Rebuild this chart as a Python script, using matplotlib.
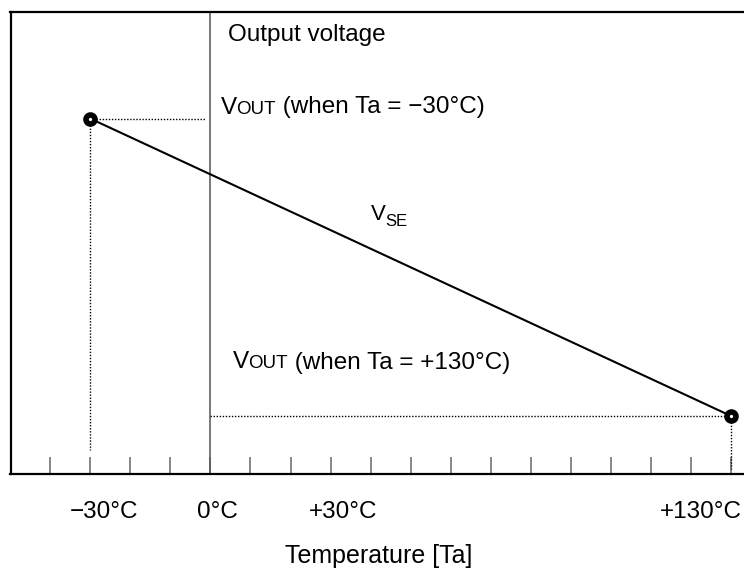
import matplotlib
matplotlib.use('Agg')
import matplotlib.pyplot as plt

plt.rcParams['font.family'] = ['Liberation Sans', 'DejaVu Sans']

# data: temperatures (deg C) and relative output voltage at the two ends
temps = [-30, 130]
vout = [0.768, 0.125]
tick_temps = [-40, -30, -20, -10, 0, 10, 20, 30, 40, 50, 60, 70, 80, 90, 100, 110, 120, 130]
label_temps = [-30, 0, 30, 130]
label_texts = ['\u221230\u00b0C', '0\u00b0C', '+30\u00b0C', '+130\u00b0C']
label_shift = [3.4, 1.75, 3.25, -7.5]  # label offset from tick, in deg C

W, H = 744, 569
fig = plt.figure(figsize=(W / 100, H / 100), dpi=100)
ax = fig.add_axes([10.5 / W, (H - 473.5) / H, 734 / W, 462 / H])
ax.set_xlim(-50, 133.5)
ax.set_ylim(0, 1)

for s in ['left', 'top', 'bottom']:
    ax.spines[s].set_linewidth(1.6)
    ax.spines[s].set_color('black')
ax.spines['right'].set_visible(False)

ax.set_xticks(tick_temps)
ax.set_xticklabels([])
ax.set_yticks([])
ax.tick_params(axis='x', direction='in', length=12, width=1.1, color='#666666')

# 0 deg C vertical axis
ax.axvline(0, color='#555555', lw=1.1)

# dotted guide lines
dot = dict(color='black', lw=1.0, linestyle=(0, (1, 1.2)))
ax.plot([temps[0], -1.3], [vout[0], vout[0]], **dot)
ax.plot([temps[0], temps[0]], [vout[0], 0.05], **dot)
ax.plot([0, temps[1]], [vout[1], vout[1]], **dot)
ax.plot([temps[1], temps[1]], [vout[1], 0.01], **dot)

# output line
ax.plot(temps, vout, color='black', lw=1.5, zorder=3)
ax.plot(temps, vout, 'o', ms=6.5, mfc='white', mec='black', mew=4, zorder=4, clip_on=False)


def pix(x, y):
    # pixel position in figure -> data coords
    return ((x - 210) / 4.0, (473 - y) / 462.0)


def vlabel(x, y, sub, rest, size=17.5, subsize=13.5, drop=0.0):
    dx, dy = pix(x, y)
    t1 = ax.text(dx, dy, 'V', fontsize=size, va='baseline', ha='left')
    t2 = ax.annotate(sub, xy=(1, dy - drop), xycoords=(t1, 'data'),
                     fontsize=subsize, va='baseline', ha='left')
    if rest:
        ax.annotate(rest, xy=(1, dy), xycoords=(t2, 'data'),
                    fontsize=size, va='baseline', ha='left')


ax.text(*pix(228, 40), 'Output voltage', fontsize=17.5, va='baseline', ha='left')
vlabel(220, 113, 'OUT', ' (when Ta = \u221230\u00b0C)')
vlabel(232, 368, 'OUT', ' (when Ta = +130\u00b0C)')
vlabel(370, 220, 'SE', '', size=16, subsize=12, drop=0.012)

# temperature tick labels
for t, s, off in zip(label_temps, label_texts, label_shift):
    ax.text(t + off, (473 - 517) / 462.0, s, fontsize=17.5, ha='center', va='baseline',
            clip_on=False)

fig.text(379 / W, 1 - 563 / H, 'Temperature [Ta]', fontsize=18, ha='center', va='baseline')

fig.savefig('out.png', dpi=100)
plt.close(fig)
